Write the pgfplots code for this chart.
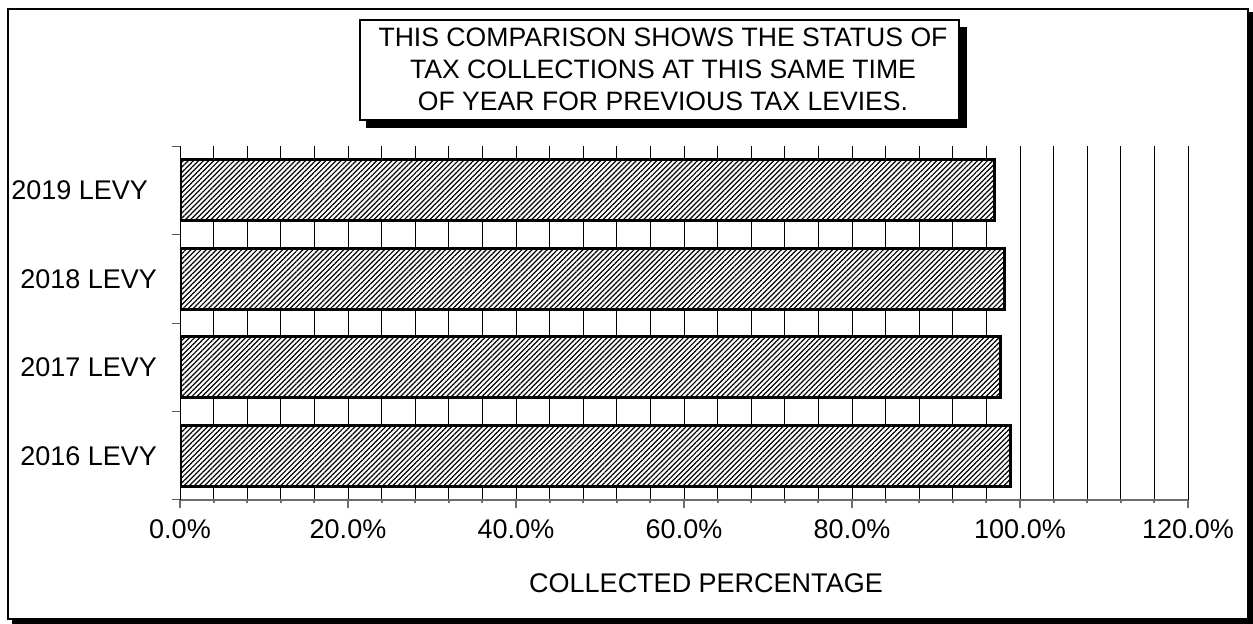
\documentclass[border=0pt]{standalone}
\usepackage{fontspec}
\setmainfont{Liberation Sans}
\usepackage{pgfplots}
\pgfplotsset{compat=1.18}
\usetikzlibrary{patterns.meta}
\begin{document}
\begin{tikzpicture}
\begin{scope}[x=0.5pt,y=-0.5pt]
\path[use as bounding box] (0,0) rectangle (1253,624);
\fill[white] (0,0) rectangle (1253,624);
\fill[black] (1248,12) rectangle (1253,624);
\fill[black] (12,619) rectangle (1253,624);
\draw[line width=1pt] (8,9) rectangle (1248,619);
\end{scope}
\begin{axis}[
  at={(90pt,-250pt)}, anchor=south west,
  scale only axis, width=504pt, height=177pt,
  xbar, bar width=0.69,
  xmin=0, xmax=120, ymin=-0.5, ymax=3.5,
  axis x line*=bottom, axis y line*=left,
  x axis line style={-, draw=gray!85!black, line width=1pt},
  y axis line style={-, draw=black, line width=0.5pt},
  xtick={0,20,40,60,80,100,120},
  xticklabels={0.0\%,20.0\%,40.0\%,60.0\%,80.0\%,100.0\%,120.0\%},
  minor x tick num=4,
  xmajorgrids, xminorgrids,
  major grid style={draw=black, line width=0.5pt},
  minor grid style={draw=black, line width=0.5pt},
  xtick style={draw=gray!85!black, line width=1pt},
  major tick length=4pt, minor tick length=1.5pt,
  tick align=outside,
  ytick={-0.5,0.5,1.5,2.5,3.5}, yticklabels={},
  ytick style={draw=gray!70!black, line width=0.5pt},
  extra y ticks={0,1,2,3},
  extra y tick labels={2016 LEVY,2017 LEVY,2018 LEVY,2019 LEVY\rule{4.5pt}{0pt}},
  extra y tick style={major tick length=0pt, ytick style={draw=none}},
  tick label style={font=\fontsize{13.5}{15}\selectfont, text=black},
  xticklabel style={yshift=-2.5pt},
  yticklabel style={xshift=-8pt},
  xlabel={COLLECTED PERCENTAGE},
  xlabel style={font=\fontsize{13.5}{15}\selectfont, at={(axis description cs:0.5,0)}, anchor=center, yshift=-41.5pt, xshift=11pt},
]
\addplot[draw=black, line width=1.5pt, fill=white,
  postaction={pattern={Lines[angle=45,distance=1.8pt,line width=0.6pt]}}]
  coordinates {(98.9,0) (97.7,1) (98.1,2) (97.0,3)};
\end{axis}
\begin{scope}[x=0.5pt,y=-0.5pt]
\fill[black] (366,27) rectangle (967,128);
\draw[fill=white, line width=1pt] (360,20) rectangle (959,120);
\node[align=center, font=\fontsize{13.3}{16}\selectfont] at (663,69)
  {THIS COMPARISON SHOWS THE STATUS OF\\TAX COLLECTIONS AT THIS SAME TIME\\OF YEAR FOR PREVIOUS TAX LEVIES.};
\end{scope}
\end{tikzpicture}
\end{document}
